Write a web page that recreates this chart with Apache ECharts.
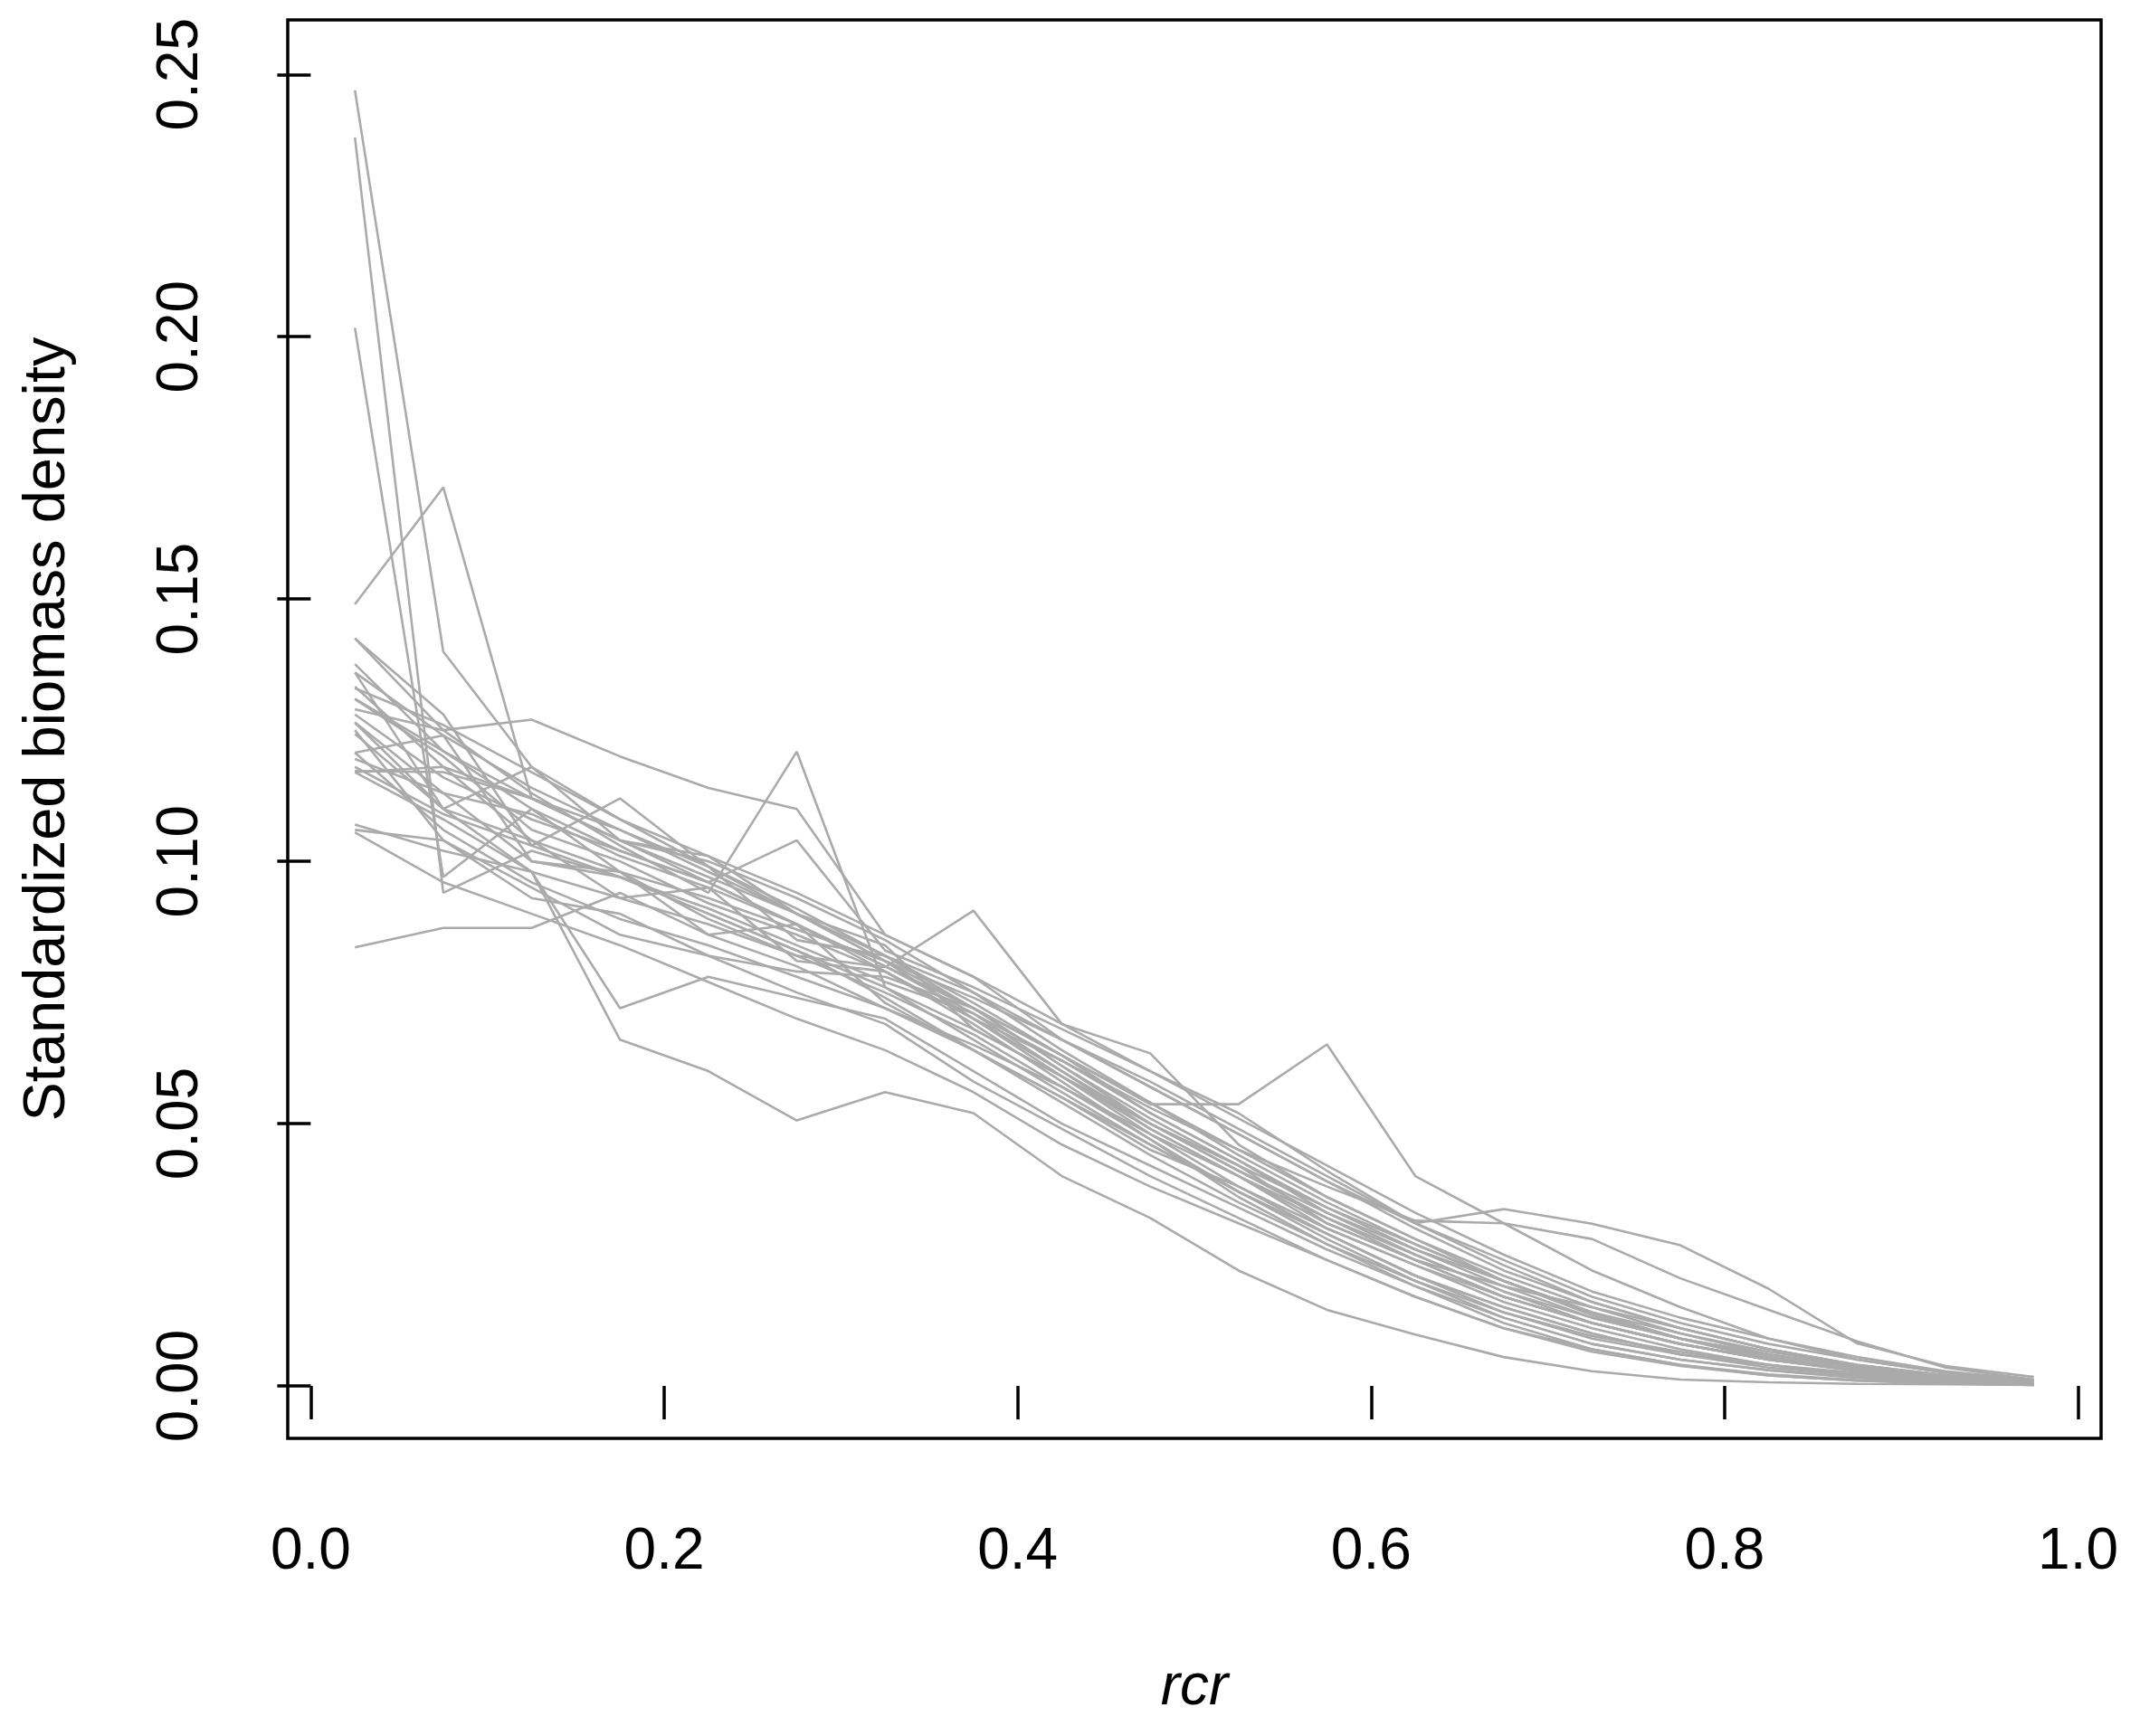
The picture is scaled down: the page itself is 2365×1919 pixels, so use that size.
<!DOCTYPE html>
<html>
<head>
<meta charset="utf-8">
<script src="https://cdn.jsdelivr.net/npm/echarts@6/dist/echarts.min.js"></script>
<style>
html,body{margin:0;padding:0;background:#fff;}
#chart{width:2365px;height:1919px;}
</style>
</head>
<body>
<div id="chart"></div>
<script>
// x positions (rcr)
var rcr = [0.025,0.075,0.125,0.175,0.225,0.275,0.325,0.375,0.425,0.475,0.525,0.575,0.625,0.675,0.725,0.775,0.825,0.875,0.925,0.975];
var xTicks = [0.0,0.2,0.4,0.6,0.8,1.0];
var yTicks = [0.00,0.05,0.10,0.15,0.20,0.25];

// standardized biomass density, one array per run
var run01 = [0.247,0.140,0.118,0.108,0.099,0.091,0.082,0.072,0.061,0.050,0.041,0.032,0.024,0.017,0.012,0.008,0.005,0.003,0.0015,0.0006];
var run02 = [0.238,0.094,0.102,0.097,0.090,0.083,0.076,0.066,0.056,0.046,0.037,0.029,0.021,0.015,0.010,0.006,0.004,0.002,0.001,0.0005];
var run03 = [0.2017,0.097,0.110,0.102,0.096,0.088,0.080,0.071,0.060,0.049,0.040,0.030,0.023,0.016,0.011,0.007,0.004,0.0025,0.0012,0.0005];
var run04 = [0.149,0.1713,0.112,0.104,0.097,0.090,0.082,0.073,0.063,0.052,0.043,0.034,0.026,0.019,0.013,0.009,0.006,0.0035,0.0018,0.0008];
var run05 = [0.1425,0.125,0.113,0.103,0.094,0.1209,0.076,0.068,0.059,0.049,0.040,0.031,0.024,0.017,0.012,0.008,0.005,0.003,0.0015,0.0006];
var run06 = [0.1376,0.121,0.110,0.098,0.089,0.082,0.0798,0.0906,0.069,0.0634,0.046,0.036,0.028,0.020,0.014,0.009,0.005,0.003,0.0015,0.0006];
var run07 = [0.136,0.124,0.114,0.106,0.098,0.090,0.081,0.072,0.063,0.0537,0.0537,0.0651,0.040,0.031,0.022,0.015,0.009,0.005,0.0025,0.001];
var run08 = [0.0836,0.0873,0.0873,0.094,0.086,0.080,0.072,0.064,0.055,0.046,0.037,0.029,0.021,0.015,0.010,0.006,0.004,0.002,0.001,0.0004];
var run09 = [0.117,0.108,0.098,0.066,0.060,0.0506,0.056,0.052,0.040,0.032,0.022,0.0145,0.0098,0.0055,0.0028,0.0012,0.0007,0.0004,0.0003,0.0002];
var run10 = [0.1264,0.110,0.098,0.072,0.078,0.074,0.070,0.060,0.050,0.042,0.034,0.026,0.019,0.013,0.008,0.005,0.003,0.0017,0.0009,0.0004];
var run11 = [0.1333,0.118,0.112,0.104,0.100,0.093,0.085,0.075,0.064,0.054,0.044,0.035,0.027,0.020,0.014,0.009,0.006,0.0035,0.0018,0.0008];
var run12 = [0.1309,0.120,0.106,0.100,0.092,0.086,0.079,0.070,0.060,0.050,0.041,0.033,0.025,0.018,0.013,0.009,0.0055,0.003,0.0015,0.0006];
var run13 = [0.129,0.125,0.127,0.120,0.114,0.110,0.086,0.078,0.066,0.057,0.048,0.039,0.031,0.024,0.017,0.012,0.008,0.005,0.0025,0.001];
var run14 = [0.128,0.116,0.108,0.102,0.096,0.104,0.083,0.076,0.068,0.060,0.052,0.041,0.031,0.0337,0.0309,0.0268,0.0185,0.0081,0.0038,0.0017];
var run15 = [0.1195,0.113,0.109,0.101,0.095,0.088,0.080,0.072,0.063,0.054,0.045,0.038,0.0315,0.031,0.028,0.0205,0.0145,0.0085,0.0035,0.0012];
var run16 = [0.1172,0.117,0.112,0.106,0.099,0.090,0.081,0.070,0.059,0.048,0.038,0.029,0.021,0.014,0.009,0.006,0.0035,0.002,0.001,0.0004];
var run17 = [0.107,0.102,0.098,0.093,0.088,0.082,0.075,0.067,0.057,0.047,0.037,0.028,0.020,0.013,0.008,0.005,0.003,0.0015,0.0008,0.0003];
var run18 = [0.1055,0.096,0.090,0.084,0.077,0.070,0.064,0.056,0.046,0.038,0.031,0.024,0.017,0.011,0.007,0.004,0.0022,0.0011,0.0006,0.0003];
var run19 = [0.1243,0.110,0.104,0.098,0.093,0.087,0.081,0.074,0.066,0.057,0.048,0.039,0.030,0.022,0.016,0.011,0.007,0.004,0.002,0.0008];
var run20 = [0.1207,0.106,0.096,0.089,0.084,0.078,0.072,0.065,0.057,0.048,0.040,0.032,0.025,0.018,0.012,0.008,0.005,0.0028,0.0014,0.0006];
var run21 = [0.131,0.121,0.112,0.104,0.096,0.088,0.079,0.069,0.058,0.047,0.036,0.027,0.019,0.012,0.007,0.004,0.002,0.001,0.0005,0.0002];
var run22 = [0.1265,0.113,0.100,0.097,0.091,0.084,0.077,0.071,0.062,0.053,0.045,0.036,0.028,0.021,0.015,0.010,0.0065,0.0038,0.0019,0.0008];
var run23 = [0.118,0.109,0.103,0.097,0.090,0.083,0.074,0.064,0.054,0.044,0.035,0.027,0.020,0.014,0.0095,0.0065,0.004,0.0022,0.0011,0.0005];
var run24 = [0.133,0.126,0.117,0.108,0.101,0.094,0.086,0.078,0.069,0.060,0.051,0.042,0.033,0.025,0.018,0.013,0.009,0.0055,0.0028,0.0011];
var run25 = [0.125,0.104,0.093,0.090,0.082,0.075,0.069,0.058,0.049,0.040,0.032,0.024,0.017,0.011,0.0065,0.0038,0.002,0.001,0.0005,0.0002];
var run26 = [0.106,0.104,0.095,0.086,0.082,0.079,0.078,0.072,0.061,0.051,0.042,0.034,0.027,0.020,0.014,0.010,0.006,0.0035,0.0017,0.0007];
var run27 = [0.1425,0.128,0.103,0.112,0.099,0.085,0.082,0.075,0.066,0.058,0.049,0.040,0.031,0.023,0.016,0.011,0.007,0.004,0.002,0.0008];
var run28 = [0.1207,0.124,0.100,0.098,0.086,0.088,0.073,0.064,0.055,0.045,0.038,0.030,0.023,0.017,0.012,0.008,0.005,0.003,0.0014,0.0006];
var run29 = [0.136,0.110,0.118,0.104,0.101,0.090,0.084,0.068,0.059,0.050,0.042,0.031,0.024,0.019,0.015,0.011,0.007,0.004,0.002,0.0008];
var run30 = [0.117,0.118,0.104,0.093,0.095,0.081,0.079,0.070,0.062,0.052,0.043,0.033,0.026,0.020,0.0135,0.009,0.0055,0.003,0.0015,0.0006];

var runs = [run01,run02,run03,run04,run05,run06,run07,run08,run09,run10,run11,run12,run13,run14,run15,
            run16,run17,run18,run19,run20,run21,run22,run23,run24,run25,run26,run27,run28,run29,run30];

var FONT = '"Liberation Sans", Arial, sans-serif';

var series = runs.map(function (r, i) {
  return {
    type: 'line',
    name: 'run' + (i + 1),
    data: r.map(function (v, j) { return [rcr[j], v]; }),
    symbol: 'none',
    lineStyle: { color: '#AAAAAA', width: 2.6 },
    silent: true,
    z: 2
  };
});

var chart = echarts.init(document.getElementById('chart'), null, { renderer: 'canvas' });
chart.setOption({
  animation: false,
  backgroundColor: '#ffffff',
  grid: {
    left: 318, top: 22, right: 43, bottom: 329,
    show: true, borderColor: '#000000', borderWidth: 3.5, backgroundColor: 'transparent'
  },
  xAxis: {
    type: 'value',
    min: -0.013, max: 1.013,
    axisLine: { show: false },
    splitLine: { show: false },
    axisTick: { show: true, inside: false, length: 37, lineStyle: { color: '#000', width: 3.5 }, customValues: xTicks },
    axisLabel: {
      show: true, customValues: xTicks, margin: 94,
      color: '#000', fontFamily: FONT, fontSize: 64,
      formatter: function (v) { return v.toFixed(1); }
    },
    name: 'rcr', nameLocation: 'middle', nameGap: 244,
    nameTextStyle: { color: '#000', fontFamily: FONT, fontSize: 64, fontStyle: 'italic' }
  },
  yAxis: {
    type: 'value',
    min: -0.0100, max: 0.2604,
    axisLine: { show: false },
    splitLine: { show: false },
    axisTick: { show: true, inside: false, length: 37, lineStyle: { color: '#000', width: 3.5 }, customValues: yTicks },
    axisLabel: {
      show: true, customValues: yTicks, margin: 86, rotate: 90,
      color: '#000', fontFamily: FONT, fontSize: 64,
      formatter: function (v) { return v.toFixed(2); }
    },
    name: 'Standardized biomass density', nameLocation: 'middle', nameGap: 232, nameRotate: 90,
    nameTextStyle: { color: '#000', fontFamily: FONT, fontSize: 65 }
  },
  series: series
});
</script>
</body>
</html>
